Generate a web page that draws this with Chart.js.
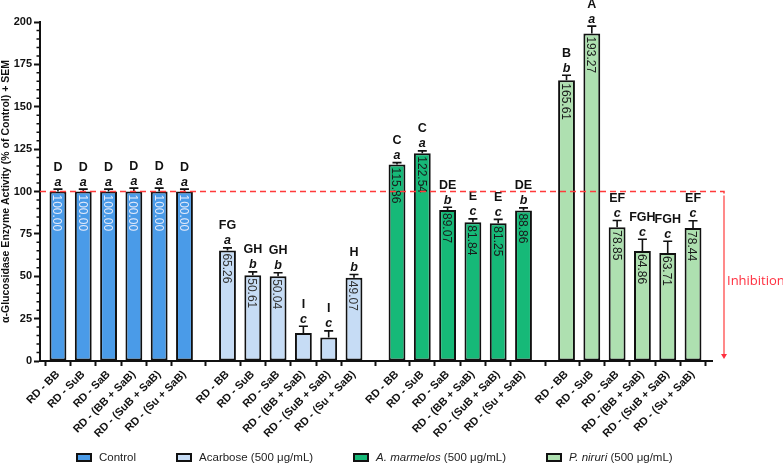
<!DOCTYPE html>
<html>
<head>
<meta charset="utf-8">
<script src="https://cdn.jsdelivr.net/npm/chart.js@4.4.1/dist/chart.umd.min.js"></script>
<style>
  body { margin: 0; background: #fff; }
  #wrap { position: relative; width: 783px; height: 470px; }
  #legend { position: absolute; left: 76px; top: 451px; display: flex; gap: 40px;
            font: 11.5px "Liberation Sans", Arial, sans-serif; color: #222; }
  #legend span.item { display: flex; align-items: center; white-space: pre; }
  #legend span.box { display: inline-block; width: 12px; height: 5px; border: 2px solid #111; margin-right: 7px; }
</style>
</head>
<body>
<div id="wrap">
  <canvas id="chart" width="783" height="470"></canvas>
  <div id="legend"></div>
</div>
<script>
// treatments (same six for every group)
const treatments = ['RD - BB', 'RD - SuB', 'RD - SaB', 'RD - (BB + SaB)', 'RD - (SuB + SaB)', 'RD - (Su + SaB)'];

// group names for the legend
const groupNames = ['Control', 'Acarbose', 'A. marmelos', 'P. niruri'];
const groupDose = ['', ' (500 μg/mL)', ' (500 μg/mL)', ' (500 μg/mL)'];
const groupItalic = [false, false, true, true];

// % of control
const controlVals = [100.00, 100.00, 100.00, 100.00, 100.00, 100.00];
const acarboseVals = [65.26, 50.61, 50.04, 16.5, 13.8, 49.07];
const marmelosVals = [115.86, 122.54, 89.07, 81.84, 81.25, 88.86];
const niruriVals = [165.61, 193.27, 78.85, 64.86, 63.71, 78.44];

// SEM
const controlSem = [1.4, 1.4, 1.4, 2.0, 2.0, 1.4];
const acarboseSem = [1.5, 2.0, 2.0, 4.0, 4.0, 2.0];
const marmelosSem = [1.2, 1.4, 1.6, 2.0, 2.3, 1.5];
const niruriSem = [3.0, 4.3, 4.0, 7.0, 6.9, 4.3];

// letters of significance
const controlUpper = ['D', 'D', 'D', 'D', 'D', 'D'];
const controlLower = ['a', 'a', 'a', 'a', 'a', 'a'];
const acarboseUpper = ['FG', 'GH', 'GH', 'I', 'I', 'H'];
const acarboseLower = ['a', 'b', 'b', 'c', 'c', 'b'];
const marmelosUpper = ['C', 'C', 'DE', 'E', 'E', 'DE'];
const marmelosLower = ['a', 'a', 'b', 'c', 'c', 'b'];
const niruriUpper = ['B', 'A', 'EF', 'FGH', 'FGH', 'EF'];
const niruriLower = ['b', 'a', 'c', 'c', 'c', 'c'];

// y ticks
const yMin = 0, yMax = 200, yStep = 25, yMinorStep = 5;

// x slot of a bar: groups sit 6.7 slots apart
const GROUP_SPACING = 6.7;
const slot = (g, i) => g * GROUP_SPACING + i;
const xTicks = [];
const xTickLabels = [];
for (let g = 0; g < 4; g++) {
  treatments.forEach((t, i) => { xTicks.push(slot(g, i)); xTickLabels.push(t); });
}

function makeSet(g, vals, sem, upper, lower, color, textColor) {
  return {
    label: groupNames[g],
    data: vals.map((v, i) => ({ x: slot(g, i), y: v })),
    backgroundColor: color,
    borderColor: '#111',
    borderWidth: 2,
    borderSkipped: false,
    grouped: false,
    barPercentage: 0.74,
    categoryPercentage: 0.9,
    sem: sem, upper: upper, lower: lower, textColor: textColor
  };
}

const datasets = [
  makeSet(0, controlVals, controlSem, controlUpper, controlLower, '#4a9be8', '#e4eafa'),
  makeSet(1, acarboseVals, acarboseSem, acarboseUpper, acarboseLower, '#c6dcf5', '#333'),
  makeSet(2, marmelosVals, marmelosSem, marmelosUpper, marmelosLower, '#16b978', '#1a1a1a'),
  makeSet(3, niruriVals, niruriSem, niruriUpper, niruriLower, '#aee0b0', '#1a1a1a')
];

// error bars, value labels, letters, the 100% line and the arrow
const annotations = {
  id: 'annotations',
  afterDatasetsDraw(chart) {
    const ctx = chart.ctx;
    const y = chart.scales.y;
    const area = chart.chartArea;
    chart.data.datasets.forEach((ds, di) => {
      chart.getDatasetMeta(di).data.forEach((bar, i) => {
        const v = ds.data[i].y;
        const top = y.getPixelForValue(v + ds.sem[i]);
        ctx.save();
        ctx.strokeStyle = '#111';
        ctx.lineWidth = 1.6;
        ctx.beginPath();
        ctx.moveTo(bar.x, bar.y);
        ctx.lineTo(bar.x, top);
        ctx.moveTo(bar.x - 4.5, top);
        ctx.lineTo(bar.x + 4.5, top);
        ctx.stroke();

        if (v > 30) {
          ctx.save();
          ctx.translate(bar.x, bar.y + 3);
          ctx.rotate(Math.PI / 2);
          ctx.font = '12px "Liberation Sans", Arial, sans-serif';
          ctx.fillStyle = ds.textColor;
          ctx.textAlign = 'left';
          ctx.textBaseline = 'alphabetic';
          ctx.fillText(v.toFixed(2), 0, 4.6);
          ctx.restore();
        }

        ctx.fillStyle = '#111';
        ctx.textAlign = 'center';
        ctx.textBaseline = 'middle';
        ctx.font = 'italic bold 12.5px "Liberation Sans", Arial, sans-serif';
        ctx.fillText(ds.lower[i], bar.x, top - 7);
        ctx.font = 'bold 12.5px "Liberation Sans", Arial, sans-serif';
        ctx.fillText(ds.upper[i], bar.x, top - 22);
        ctx.restore();
      });
    });

    const y100 = y.getPixelForValue(100);
    const y0 = y.getPixelForValue(0);
    const xr = area.right + 12;
    ctx.save();
    ctx.strokeStyle = '#ff3b3b';
    ctx.lineWidth = 1.5;
    ctx.setLineDash([6, 4]);
    ctx.beginPath();
    ctx.moveTo(area.left, y100);
    ctx.lineTo(xr, y100);
    ctx.lineTo(xr, y100 + 4);
    ctx.stroke();
    ctx.setLineDash([]);
    ctx.lineWidth = 1.2;
    ctx.beginPath();
    ctx.moveTo(xr, y100 + 4);
    ctx.lineTo(xr, y0 - 6);
    ctx.stroke();
    ctx.fillStyle = '#ff3040';
    ctx.beginPath();
    ctx.moveTo(xr - 3, y0 - 7);
    ctx.lineTo(xr + 3, y0 - 7);
    ctx.lineTo(xr, y0 - 2);
    ctx.closePath();
    ctx.fill();
    ctx.font = '13px "Open Sans", "Liberation Sans", sans-serif';
    ctx.textAlign = 'left';
    ctx.textBaseline = 'middle';
    ctx.fillStyle = '#ff2f3f';
    ctx.fillText('Inhibition', xr + 3, (y100 + y0) / 2 + 5);
    ctx.restore();
  },
  afterDraw(chart) {
    // minor ticks on the y axis
    const ctx = chart.ctx;
    const y = chart.scales.y;
    const left = chart.chartArea.left;
    ctx.save();
    ctx.strokeStyle = '#111';
    ctx.lineWidth = 1.5;
    ctx.beginPath();
    for (let v = yMin; v <= yMax; v += yMinorStep) {
      if (v % yStep === 0) continue;
      const p = y.getPixelForValue(v);
      ctx.moveTo(left - 3.5, p);
      ctx.lineTo(left, p);
    }
    ctx.stroke();
    ctx.restore();
  }
};

const chart = new Chart(document.getElementById('chart'), {
  type: 'bar',
  data: { datasets: datasets },
  options: {
    responsive: false,
    animation: false,
    layout: { padding: { top: 22, right: 71, left: 0, bottom: 0 } },
    plugins: { legend: { display: false }, tooltip: { enabled: false } },
    scales: {
      x: {
        type: 'linear',
        offset: false,
        min: -0.71,
        max: xTicks[xTicks.length - 1] + 0.75,
        afterBuildTicks: (scale) => { scale.ticks = xTicks.map(v => ({ value: v })); },
        afterFit: (scale) => { scale.height = 109; },
        ticks: {
          autoSkip: false,
          maxRotation: 45,
          minRotation: 45,
          padding: 2,
          color: '#111',
          font: { family: '"Liberation Sans", Arial, sans-serif', size: 11, weight: 'bold' },
          callback: (value) => {
            const k = xTicks.findIndex(t => Math.abs(t - value) < 1e-6);
            return k >= 0 ? xTickLabels[k] : '';
          }
        },
        grid: { drawOnChartArea: false, drawTicks: true, tickLength: 5, tickColor: '#111', tickWidth: 2 },
        border: { color: '#111', width: 2 }
      },
      y: {
        min: yMin,
        max: yMax,
        afterFit: (scale) => { scale.width = 40; },
        ticks: {
          stepSize: yStep,
          padding: 2,
          color: '#111',
          font: { family: '"Liberation Sans", Arial, sans-serif', size: 11, weight: 'bold' }
        },
        grid: { drawOnChartArea: false, drawTicks: true, tickLength: 6, tickColor: '#111', tickWidth: 2 },
        border: { color: '#111', width: 2 },
        title: {
          display: true,
          text: 'α-Glucosidase Enzyme Activity (% of Control) + SEM',
          color: '#111',
          padding: { top: 0, bottom: 0 },
          font: { family: '"Liberation Sans", Arial, sans-serif', size: 10.5, weight: 'bold' }
        }
      }
    }
  },
  plugins: [annotations]
});

// legend built from the datasets
const legend = document.getElementById('legend');
chart.data.datasets.forEach((ds, g) => {
  const item = document.createElement('span');
  item.className = 'item';
  const box = document.createElement('span');
  box.className = 'box';
  box.style.background = ds.backgroundColor;
  item.appendChild(box);
  const name = document.createElement(groupItalic[g] ? 'i' : 'span');
  name.textContent = groupNames[g];
  item.appendChild(name);
  const dose = document.createElement('span');
  dose.textContent = groupDose[g];
  item.appendChild(dose);
  legend.appendChild(item);
});
</script>
</body>
</html>
